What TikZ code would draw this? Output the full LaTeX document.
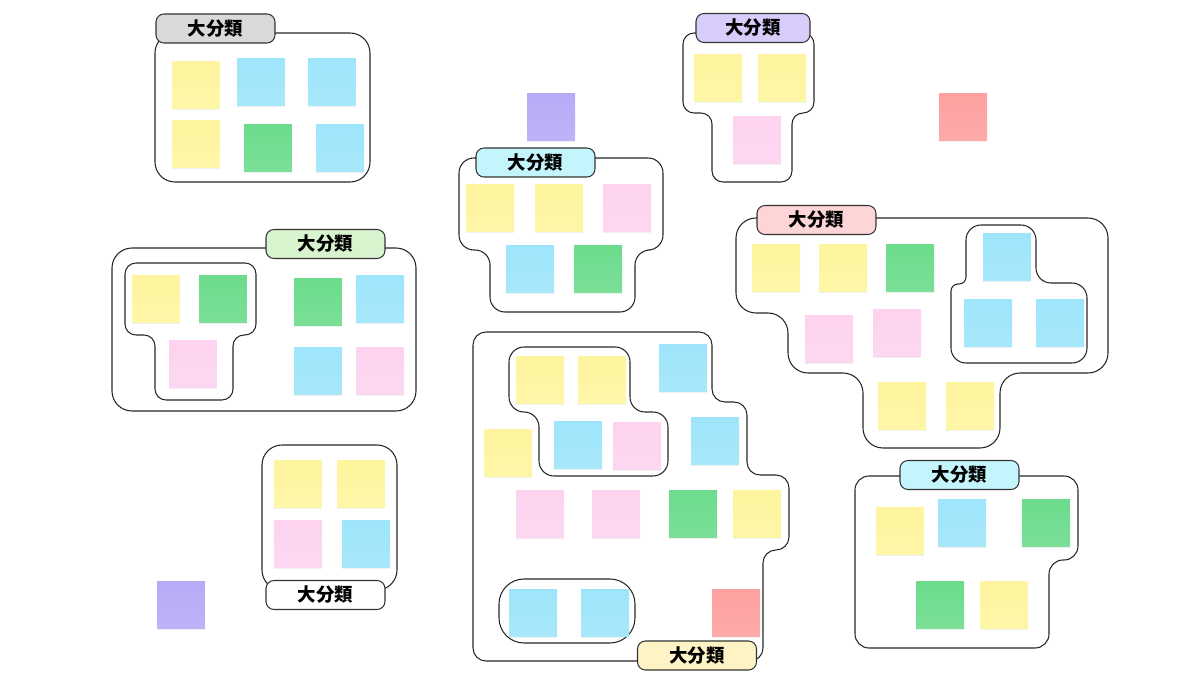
\documentclass[tikz,border=0pt]{standalone}
\usepackage{fontspec}
\newfontfamily\cjk{Noto Sans CJK JP}
\usetikzlibrary{shadows}

\definecolor{nyel}{HTML}{FEF59E}
\definecolor{nblu}{HTML}{9EE5FB}
\definecolor{ngrn}{HTML}{6CDC8C}
\definecolor{npnk}{HTML}{FDD3F0}
\definecolor{npur}{HTML}{B7ABF8}
\definecolor{nred}{HTML}{FDA1A0}
\definecolor{cgray}{HTML}{D9D9D9}
\definecolor{cgrn}{HTML}{D8F4CF}
\definecolor{ccyan}{HTML}{C4F5FC}
\definecolor{cpur}{HTML}{D8CCFB}
\definecolor{cpnk}{HTML}{FDD5D6}
\definecolor{cyel}{HTML}{FEF3C5}

\begin{document}
\begin{tikzpicture}[x=0.02cm, y=-0.02cm,
    note/.style={top color=#1, bottom color=#1!90!white, minimum size=0.96cm, inner sep=0pt,
                 drop shadow={shadow xshift=0pt, shadow yshift=-0.8pt, opacity=0.12}},
    grp/.style={draw=black!85, line width=0.6pt, rounded corners=#1},
    grp/.default=0.4cm,
    catbox/.style={draw=black!80, line width=0.6pt, fill=#1, rounded corners=0.16cm,
                   minimum width=2.38cm, minimum height=0.58cm, inner sep=0pt,
                   font=\cjk\bfseries\fontsize{10.5pt}{12pt}\selectfont}]
      \useasboundingbox (0,0) rectangle (1200,675);

      % group outlines
      \draw[grp] (155,33) rectangle (370,182);
      \draw[grp] (112,248) rectangle (416,411);
      \draw[grp=0.22cm] (125,263) -- (256,263) -- (256,335) -- (233,335) -- (233,400)
            -- (155,400) -- (155,335) -- (125,335) -- cycle;
      \draw[grp=0.3cm] (459,158) -- (663,158) -- (663,250) -- (635,250) -- (635,312)
            -- (490,312) -- (490,250) -- (459,250) -- cycle;
      \draw[grp=0.22cm] (683,33) -- (814,33) -- (814,113) -- (792,113) -- (792,182)
            -- (712,182) -- (712,113) -- (683,113) -- cycle;
      \draw[grp] (736,218) -- (1108,218) -- (1108,373) -- (1000,373) -- (1000,448)
            -- (863,448) -- (863,373) -- (788,373) -- (788,313) -- (736,313) -- cycle;
      \draw[grp=0.3cm] (1020,363) -- (1087,363) -- (1087,283) -- (1036,283) -- (1036,225)
            -- (966,225) [rounded corners=0.14cm] -- (966,284) -- (951,284)
            [rounded corners=0.3cm] -- (951,363) -- cycle;
      \draw[grp=0.28cm] (855,476) -- (1078,476) -- (1078,560) -- (1049,560) -- (1049,648)
            -- (855,648) -- cycle;
      \draw[grp] (262,445) rectangle (397,590);
      \draw[grp=0.26cm] (473,332) -- (712,332) -- (712,402) -- (747,402) -- (747,475)
            -- (789,475) -- (789,550) -- (763,550) -- (763,661) -- (473,661) -- cycle;
      \draw[grp=0.3cm] (509,347) -- (630,347) -- (630,412) -- (668,412) -- (668,476)
            -- (539,476) -- (539,412) -- (509,412) -- cycle;
      \draw[grp=0.5cm] (499,579) rectangle (635,643);

      % top left
      \node[note=nyel] (a1) at (196,85) {};
      \node[note=nblu] (a2) at (261,82) {};
      \node[note=nblu] (a3) at (332,82) {};
      \node[note=nyel] (a4) at (196,144) {};
      \node[note=ngrn] (a5) at (268,148) {};
      \node[note=nblu] (a6) at (340,148) {};

      % middle left
      \node[note=nyel] (b1) at (156,299) {};
      \node[note=ngrn] (b2) at (223,299) {};
      \node[note=npnk] (b3) at (193,364) {};
      \node[note=ngrn] (b4) at (318,302) {};
      \node[note=nblu] (b5) at (380,299) {};
      \node[note=nblu] (b6) at (318,371) {};
      \node[note=npnk] (b7) at (380,371) {};

      % bottom left
      \node[note=nyel] (c1) at (298,484) {};
      \node[note=nyel] (c2) at (361,484) {};
      \node[note=npnk] (c3) at (298,544) {};
      \node[note=nblu] (c4) at (366,544) {};
      \node[note=npur] (c5) at (181,605) {};

      % centre top
      \node[note=npur] (d0) at (551,117) {};
      \node[note=nyel] (d1) at (490,208) {};
      \node[note=nyel] (d2) at (559,208) {};
      \node[note=npnk] (d3) at (627,208) {};
      \node[note=nblu] (d4) at (530,269) {};
      \node[note=ngrn] (d5) at (598,269) {};

      % top right
      \node[note=nyel] (e1) at (718,78) {};
      \node[note=nyel] (e2) at (782,78) {};
      \node[note=npnk] (e3) at (757,140) {};
      \node[note=nred] (e4) at (963,117) {};

      % right
      \node[note=nyel] (f1) at (776,268) {};
      \node[note=nyel] (f2) at (843,268) {};
      \node[note=ngrn] (f3) at (910,268) {};
      \node[note=nblu] (f4) at (1007,257) {};
      \node[note=npnk] (f5) at (829,339) {};
      \node[note=npnk] (f6) at (897,333) {};
      \node[note=nblu] (f7) at (988,323) {};
      \node[note=nblu] (f8) at (1060,323) {};
      \node[note=nyel] (f9) at (902,406) {};
      \node[note=nyel] (f10) at (970,406) {};

      % bottom right
      \node[note=nyel] (g1) at (900,531) {};
      \node[note=nblu] (g2) at (962,523) {};
      \node[note=ngrn] (g3) at (1046,523) {};
      \node[note=ngrn] (g4) at (940,605) {};
      \node[note=nyel] (g5) at (1004,605) {};

      % bottom centre
      \node[note=nyel] (h1) at (540,380) {};
      \node[note=nyel] (h2) at (602,380) {};
      \node[note=nblu] (h3) at (683,368) {};
      \node[note=nyel] (h4) at (508,453) {};
      \node[note=nblu] (h5) at (578,445) {};
      \node[note=npnk] (h6) at (637,446) {};
      \node[note=nblu] (h7) at (715,441) {};
      \node[note=npnk] (h8) at (540,514) {};
      \node[note=npnk] (h9) at (616,514) {};
      \node[note=ngrn] (h10) at (693,514) {};
      \node[note=nyel] (h11) at (757,514) {};
      \node[note=nblu] (h12) at (533,613) {};
      \node[note=nblu] (h13) at (605,613) {};
      \node[note=nred] (h14) at (736,613) {};

      % category tags
      \node[catbox=cgray] (ta) at (215.5,28.5) {大分類};
      \node[catbox=cgrn] (tb) at (325.5,244) {大分類};
      \node[catbox=white] (tc) at (325.5,595) {大分類};
      \node[catbox=ccyan] (td) at (535.5,162.5) {大分類};
      \node[catbox=cpur, minimum width=2.28cm] (te) at (753,28) {大分類};
      \node[catbox=cpnk] (tf) at (816.5,220) {大分類};
      \node[catbox=ccyan] (tg) at (959.5,475) {大分類};
      \node[catbox=cyel] (th) at (697,655.5) {大分類};
    \end{tikzpicture}
\end{document}
